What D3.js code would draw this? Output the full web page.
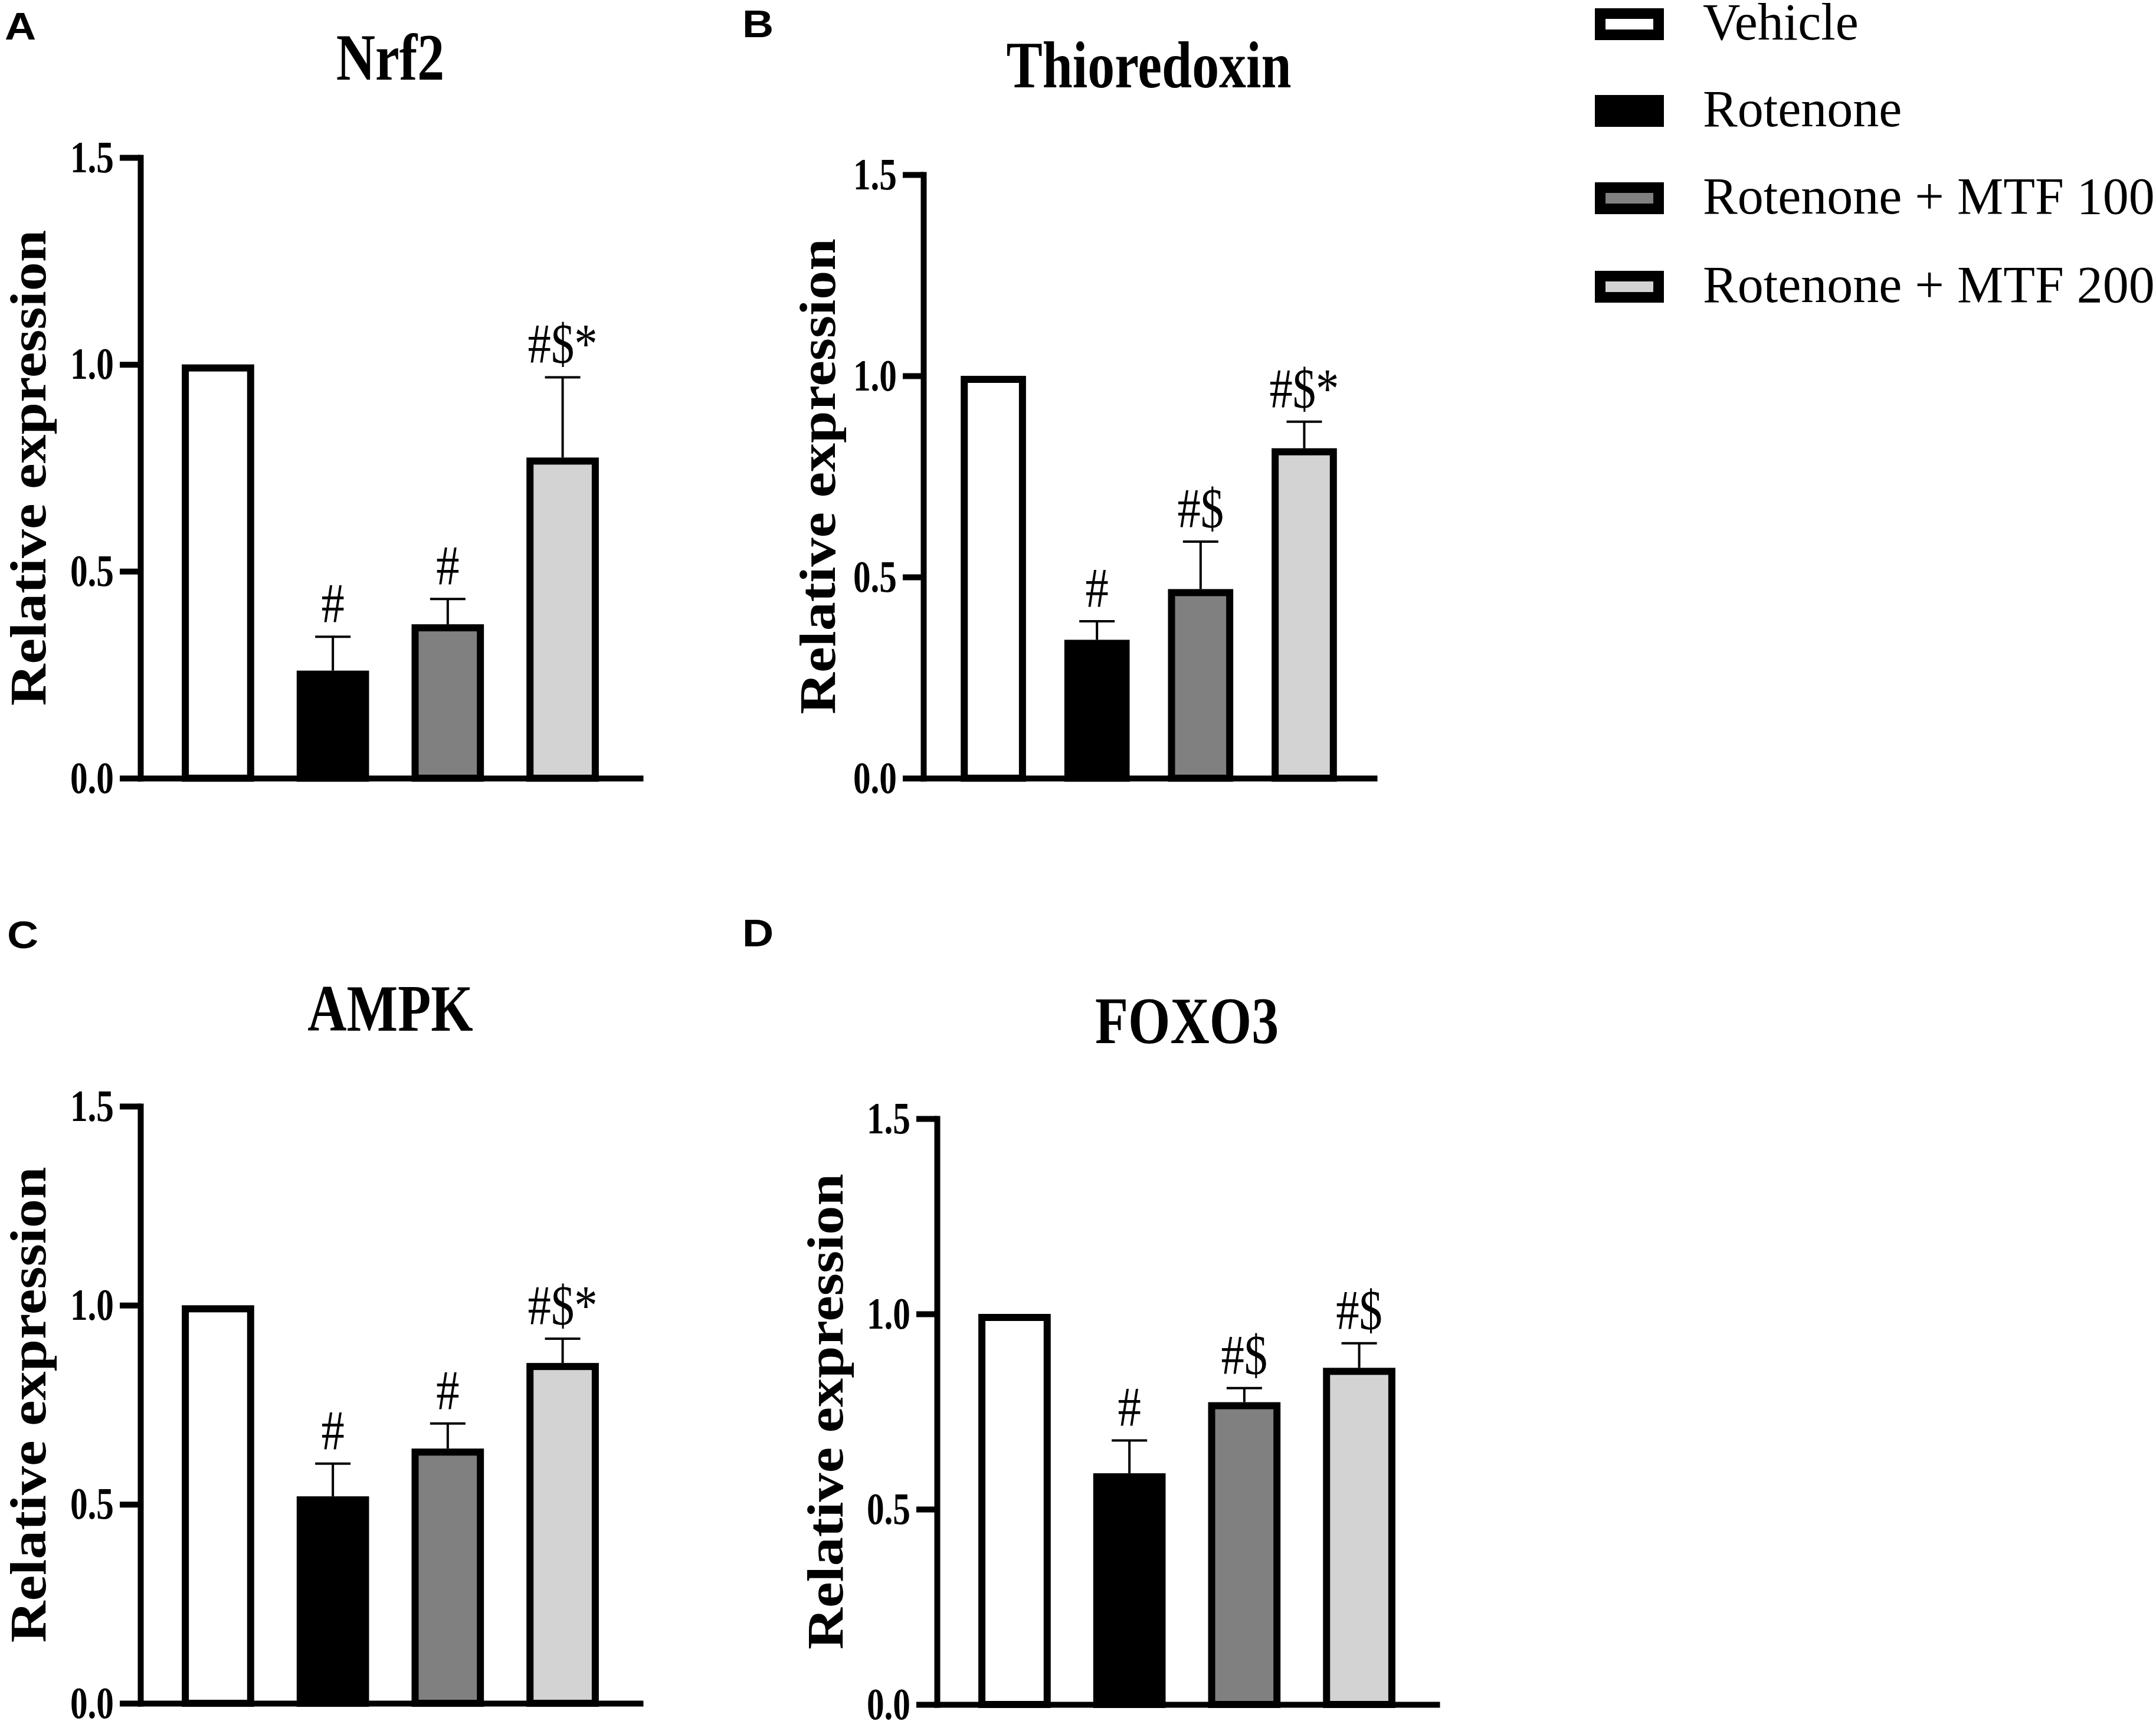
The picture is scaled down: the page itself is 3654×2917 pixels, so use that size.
<!DOCTYPE html>
<html lang="en">
<head>
  <meta charset="UTF-8">
  <title>Relative expression - Nrf2, Thioredoxin, AMPK, FOXO3</title>
  <script src="https://d3js.org/d3.v7.min.js"></script>
  <style>
    body { margin: 0; background: #fff; }
    svg { display: block; }
  </style>
</head>
<body>

<script>
// ---- data ----
const groups = ["Vehicle", "Rotenone", "Rotenone + MTF 100", "Rotenone + MTF 200"];
const genes = ["Nrf2", "Thioredoxin", "AMPK", "FOXO3"];
const panelLetters = ["A", "B", "C", "D"];
const yTicks = [0, 0.5, 1.0, 1.5];
const yLabel = "Relative expression";

const nrf2Mean = [1.00, 0.26, 0.372, 0.775];
const nrf2Err  = [0, 0.082, 0.061, 0.194];
const nrf2Sig  = ["", "#", "#", "#$*"];

const trxMean = [1.00, 0.344, 0.47, 0.82];
const trxErr  = [0, 0.046, 0.118, 0.066];
const trxSig  = ["", "#", "#$", "#$*"];

const ampkMean = [1.00, 0.52, 0.64, 0.855];
const ampkErr  = [0, 0.082, 0.063, 0.061];
const ampkSig  = ["", "#", "#", "#$*"];

const foxo3Mean = [1.00, 0.592, 0.774, 0.862];
const foxo3Err  = [0, 0.084, 0.036, 0.063];
const foxo3Sig  = ["", "#", "#$", "#$"];

const means = [nrf2Mean, trxMean, ampkMean, foxo3Mean];
const errs = [nrf2Err, trxErr, ampkErr, foxo3Err];
const sigs = [nrf2Sig, trxSig, ampkSig, foxo3Sig];

// ---- styling / layout ----
const W = 3654, H = 2917;
const fills = ["#ffffff", "#000000", "#808080", "#d3d3d3"];
const serif = "'Liberation Serif', 'Times New Roman', serif";
const sans = "'Liberation Sans', Arial, sans-serif";
const squeeze = 0.82;   // panel text is drawn a bit narrow in the original

const layout = [
  {x0: 238,  x1: 1085, yTop: 267,  yBase: 1319, titleY: 135,  letterX: 8,    letterY: 67,   labelX: 77},
  {x0: 1565, x1: 2329, yTop: 296,  yBase: 1319, titleY: 148,  letterX: 1258, letterY: 63,   labelX: 1415},
  {x0: 238,  x1: 1085, yTop: 1875, yBase: 2887, titleY: 1747, letterX: 12,   letterY: 1607, labelX: 77},
  {x0: 1588, x1: 2435, yTop: 1896, yBase: 2889, titleY: 1768, letterX: 1258, letterY: 1604, labelX: 1428}
];

const svg = d3.select("body").append("svg")
  .attr("width", W)
  .attr("height", H)
  .style("background", "#fff");

const tickLen = 35, axisW = 10, barW = 12;

genes.forEach((gene, p) => {
  const L = layout[p];
  const g = svg.append("g");

  const x = d3.scaleBand()
    .domain(groups)
    .range([L.x0, L.x1])
    .paddingInner(0.37)
    .paddingOuter(0.36);

  const y = d3.scaleLinear()
    .domain([0, 1.5])
    .range([L.yBase, L.yTop]);

  const rows = groups.map((grp, i) => ({
    grp, fill: fills[i], mean: means[p][i], err: errs[p][i], sig: sigs[p][i]
  }));

  // panel letter
  g.append("text")
    .attr("transform", `translate(${L.letterX},${L.letterY}) scale(1.15,1)`)
    .attr("font-family", sans)
    .attr("font-weight", "bold")
    .attr("font-size", 64)
    .text(panelLetters[p]);

  // title
  g.append("text")
    .attr("transform", `translate(${(L.x0 + L.x1) / 2},${L.titleY}) scale(${squeeze},1)`)
    .attr("text-anchor", "middle")
    .attr("font-family", serif)
    .attr("font-weight", "bold")
    .attr("font-size", 112)
    .text(gene);

  // y label
  g.append("text")
    .attr("transform", `translate(${L.labelX},${(L.yTop + L.yBase) / 2}) scale(0.88,1) rotate(-90)`)
    .attr("text-anchor", "middle")
    .attr("font-family", serif)
    .attr("font-weight", "bold")
    .attr("font-size", 98)
    .text(yLabel);

  // error bars (upper whisker only)
  const capHalf = 30;
  const eb = g.selectAll(".err")
    .data(rows.filter(d => d.err > 0))
    .enter().append("g")
    .attr("class", "err")
    .attr("stroke", "#000")
    .attr("stroke-width", 4);

  eb.append("line")
    .attr("x1", d => x(d.grp) + x.bandwidth() / 2)
    .attr("x2", d => x(d.grp) + x.bandwidth() / 2)
    .attr("y1", d => y(d.mean))
    .attr("y2", d => y(d.mean + d.err));

  eb.append("line")
    .attr("x1", d => x(d.grp) + x.bandwidth() / 2 - capHalf)
    .attr("x2", d => x(d.grp) + x.bandwidth() / 2 + capHalf)
    .attr("y1", d => y(d.mean + d.err))
    .attr("y2", d => y(d.mean + d.err));

  // bars
  g.selectAll(".bar")
    .data(rows)
    .enter().append("rect")
    .attr("class", "bar")
    .attr("x", d => x(d.grp) + barW / 2)
    .attr("width", x.bandwidth() - barW)
    .attr("y", d => y(d.mean) + barW / 2)
    .attr("height", d => y(0) - y(d.mean) - barW / 2)
    .attr("fill", d => d.fill)
    .attr("stroke", "#000")
    .attr("stroke-width", barW);

  // significance marks
  g.selectAll(".sig")
    .data(rows.filter(d => d.sig))
    .enter().append("text")
    .attr("class", "sig")
    .attr("transform", d => `translate(${x(d.grp) + x.bandwidth() / 2},${y(d.mean + d.err) - 24}) scale(${squeeze},1)`)
    .attr("text-anchor", "middle")
    .attr("font-family", serif)
    .attr("font-size", 96)
    .text(d => d.sig);

  // axes
  const yAxis = g.append("g")
    .attr("transform", `translate(${L.x0},0)`)
    .call(d3.axisLeft(y)
      .tickValues(yTicks)
      .tickFormat(d3.format(".1f"))
      .tickSize(tickLen)
      .tickSizeOuter(0)
      .tickPadding(10));

  const xAxis = g.append("g")
    .attr("transform", `translate(0,${L.yBase})`)
    .call(d3.axisBottom(x).tickSize(0).tickSizeOuter(0).tickFormat(""));

  [yAxis, xAxis].forEach(ax => {
    ax.select(".domain").attr("stroke", "#000").attr("stroke-width", axisW).attr("stroke-linecap", "square");
    ax.selectAll(".tick line").attr("stroke", "#000").attr("stroke-width", axisW);
  });

  yAxis.selectAll(".tick text")
    .attr("x", null)
    .attr("transform", `translate(${-(tickLen + 10)},0) scale(0.78,1)`)
    .attr("font-family", serif)
    .attr("font-weight", "bold")
    .attr("font-size", 76)
    .attr("fill", "#000");
});

// ---- legend ----
const legend = svg.append("g");
const legendBaselines = [67, 214, 362, 512];

const items = legend.selectAll(".item")
  .data(groups)
  .enter().append("g")
  .attr("class", "item");

items.append("rect")
  .attr("x", 2712)
  .attr("y", (d, i) => legendBaselines[i] - 44)
  .attr("width", 99)
  .attr("height", 36)
  .attr("fill", (d, i) => fills[i])
  .attr("stroke", "#000")
  .attr("stroke-width", 18);

items.append("text")
  .attr("x", 2886)
  .attr("y", (d, i) => legendBaselines[i])
  .attr("font-family", serif)
  .attr("font-size", 88)
  .attr("fill", "#000")
  .text(d => d);
</script>

</body>
</html>
